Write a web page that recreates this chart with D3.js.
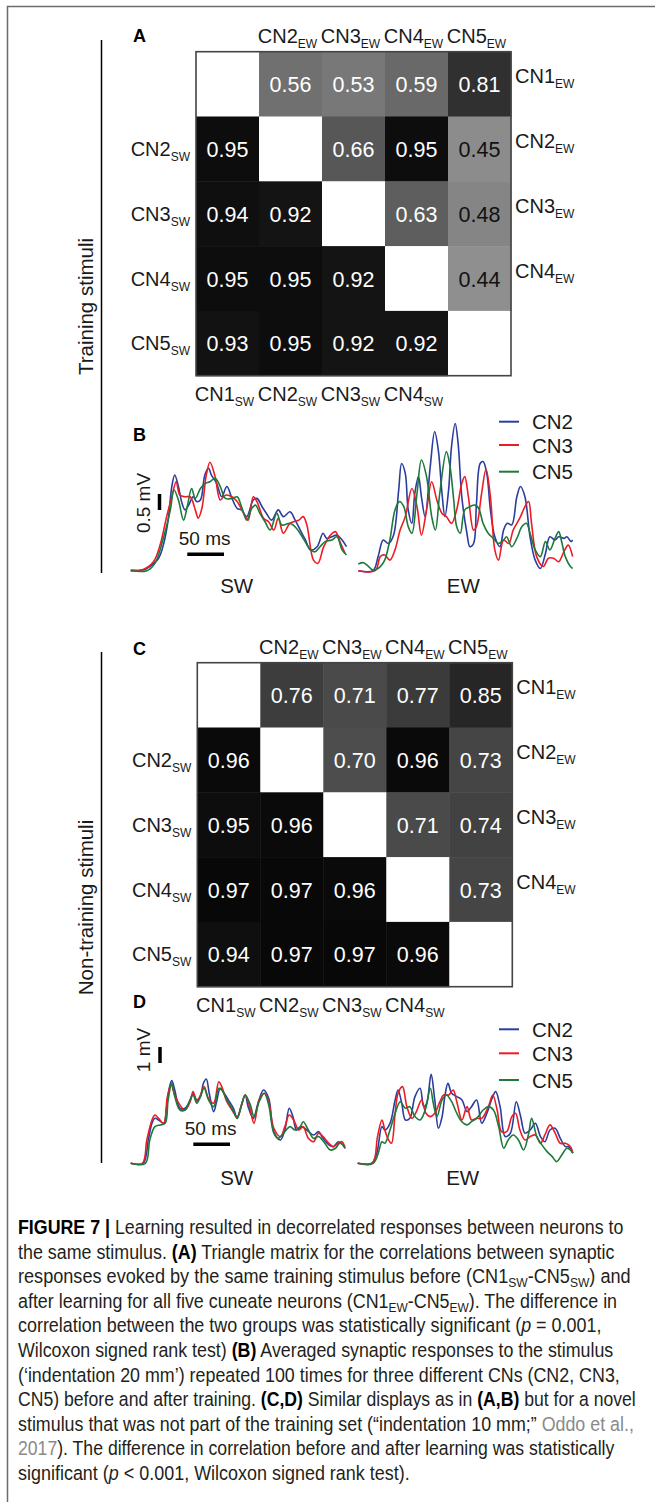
<!DOCTYPE html>
<html>
<head>
<meta charset="utf-8">
<script src="https://cdn.jsdelivr.net/npm/d3@7"></script>
<style>
  body { margin: 0; background: #fff; }
  svg { display: block; font-family: "Liberation Sans", Arial, Helvetica, sans-serif; }
</style>
</head>
<body>
<svg id="fig" width="655" height="1502"></svg>
<script>
/* correlation matrices: upper triangle = after learning (EW), lower = before (SW) */
const neurons = ["CN1", "CN2", "CN3", "CN4", "CN5"];

const trainCorr = [
  [null, 0.56, 0.53, 0.59, 0.81],
  [0.95, null, 0.66, 0.95, 0.45],
  [0.94, 0.92, null, 0.63, 0.48],
  [0.95, 0.95, 0.92, null, 0.44],
  [0.93, 0.95, 0.92, 0.92, null]
];
const novelCorr = [
  [null, 0.76, 0.71, 0.77, 0.85],
  [0.96, null, 0.70, 0.96, 0.73],
  [0.95, 0.96, null, 0.71, 0.74],
  [0.97, 0.97, 0.96, null, 0.73],
  [0.94, 0.97, 0.97, 0.96, null]
];

/* averaged synaptic responses, [time ms, mV] */
const traceNames = ["CN2", "CN3", "CN5"];

// B, training stimulus (indentation 20 mm)
const trainSW_CN2 = [[0,0.02],[17,0.02],[26,0.13],[38,0.39],[45,0.85],[51,1.58],[56,2.63],[60,2.99],[65,2.63],[70,2.10],[74,1.90],[79,2.05],[85,2.31],[90,2.16],[95,2.21],[101,2.99],[106,3.20],[110,2.99],[117,2.73],[124,2.31],[131,2.63],[138,2.26],[145,1.95],[151,1.90],[158,1.69],[167,2.21],[172,2.26],[179,2.00],[185,1.79],[192,1.58],[201,1.90],[208,1.69],[217,1.84],[224,1.58],[231,1.27],[238,0.96],[245,0.65],[254,0.75],[262,1.17],[267,1.01],[274,1.06],[281,1.11],[288,0.96],[294,0.75]];
const trainSW_CN3 = [[0,0],[17,0.04],[31,0.28],[40,0.80],[49,1.69],[56,2.31],[62,2.78],[67,2.36],[74,2.31],[81,2.31],[88,1.90],[92,1.64],[97,1.95],[103,2.99],[108,3.39],[115,2.94],[122,2.21],[129,2.36],[138,2.31],[145,2.16],[154,1.79],[160,1.58],[167,2.31],[172,2.16],[181,1.64],[188,1.53],[195,1.27],[201,1.64],[208,1.17],[217,1.48],[229,1.58],[235,1.69],[240,1.43],[249,0.33],[255,0.23],[263,0.75],[272,1.11],[279,1.22],[285,0.91],[292,0.54]];
const trainSW_CN5 = [[0,0],[22,0],[33,0.23],[45,1.06],[54,1.90],[59,2.52],[65,2.21],[72,1.58],[77,2.00],[83,2.57],[88,2.26],[95,2.57],[101,2.73],[108,2.78],[115,2.89],[122,2.63],[129,2.26],[138,2.26],[145,2.31],[151,2.00],[158,1.58],[165,1.95],[170,2.05],[176,1.79],[183,1.53],[190,1.27],[199,1.79],[206,1.43],[217,1.48],[226,1.32],[235,1.01],[245,0.65],[251,0.59],[258,0.75],[265,0.91],[274,0.96],[281,1.06],[288,0.65],[294,0.49]];
const trainEW_CN2 = [[0,0],[20,0],[27,0.44],[34,0.96],[41,0.85],[48,1.11],[55,2.52],[59,3.35],[64,3.04],[68,1.90],[73,1.48],[77,2.42],[82,2.94],[86,2.31],[91,1.69],[98,3.25],[104,4.34],[109,3.77],[114,2.42],[118,1.69],[123,2.52],[127,3.88],[132,4.60],[136,3.98],[141,2.31],[148,1.17],[152,0.75],[157,0.85],[161,2.10],[166,3.35],[170,3.41],[175,3.04],[180,1.90],[186,1.06],[193,0.75],[198,1.27],[203,1.48],[209,1.43],[216,2.31],[221,2.63],[227,2.31],[234,1.06],[241,0.33],[248,0.07],[255,0.54],[261,1.06],[268,0.96],[273,1.06],[280,1.01],[284,1.06],[290,0.91],[292,0.96]];
const trainEW_CN3 = [[0,0],[23,0],[30,0.44],[36,0.49],[43,0.33],[50,0.65],[57,1.27],[64,1.69],[73,2.57],[80,2.00],[86,1.11],[93,1.90],[100,2.78],[107,2.21],[114,1.79],[120,1.69],[127,1.48],[134,1.90],[141,2.73],[145,2.94],[150,2.31],[157,1.27],[161,1.38],[168,2.42],[174,3.17],[180,2.31],[186,0.65],[191,0.33],[198,0.96],[205,0.85],[211,1.27],[220,1.64],[227,2.00],[232,2.16],[236,1.48],[243,0.44],[252,0.13],[259,0.39],[266,0.39],[273,0.28],[280,0.59],[286,0.80],[292,0.44]];
const trainEW_CN5 = [[0,0.21],[7,0.25],[14,0.13],[20,0.02],[30,0.13],[36,0.33],[43,0.96],[50,1.90],[56,2.16],[62,2.00],[68,1.38],[73,1.17],[80,2.42],[86,3.46],[93,2.94],[100,1.69],[105,1.27],[111,2.42],[120,3.72],[125,3.25],[130,2.21],[134,1.38],[139,1.17],[145,1.90],[152,2.00],[159,2.05],[164,1.95],[170,1.48],[177,1.17],[184,1.01],[191,0.85],[198,0.96],[202,1.06],[209,0.75],[216,1.01],[223,1.38],[229,1.48],[234,1.17],[241,0.65],[248,0.44],[255,0.91],[261,0.65],[268,1.01],[273,1.22],[277,0.91],[282,0.44],[289,0.13],[292,0.07]];

// D, novel stimulus (indentation 10 mm)
const novelSW_CN2 = [[0,0],[17,0],[24,1.46],[29,2.50],[33,2.81],[38,2.71],[45,2.50],[49,3.54],[53,4.79],[56,5.17],[60,4.58],[67,3.44],[74,3.44],[81,3.96],[85,4.38],[90,3.96],[95,4.17],[99,5.00],[103,5.27],[107,4.38],[113,3.23],[117,3.85],[122,4.69],[126,4.48],[133,3.96],[140,3.44],[145,2.81],[151,3.65],[156,4.27],[160,3.54],[167,2.81],[174,3.85],[181,4.58],[188,4.06],[195,1.98],[204,1.46],[210,2.08],[216,3.44],[221,2.92],[226,2.08],[233,2.29],[240,2.08],[249,1.77],[256,1.98],[262,1.56],[270,1.15],[276,1.04],[283,1.35],[289,1.15],[292,0.94]];
const novelSW_CN3 = [[0,0],[16,0],[22,1.46],[29,2.71],[33,3.02],[38,2.81],[45,2.50],[50,4.17],[55,4.90],[60,4.27],[67,3.65],[74,3.33],[81,3.85],[85,4.48],[90,3.85],[95,4.27],[100,4.79],[106,4.06],[113,3.75],[120,5.10],[124,4.79],[131,3.85],[138,3.33],[145,2.92],[151,3.65],[156,4.27],[162,3.54],[168,2.50],[175,3.96],[182,4.38],[188,3.85],[195,2.19],[204,1.67],[210,2.29],[216,3.02],[222,2.71],[229,2.08],[235,2.29],[242,1.56],[249,1.35],[256,1.88],[262,1.67],[270,1.25],[276,1.04],[283,1.25],[288,1.35],[292,0.94]];
const novelSW_CN5 = [[0,0],[20,0],[26,1.46],[33,2.29],[40,2.40],[47,2.50],[51,3.96],[56,5.00],[60,4.17],[67,3.33],[74,3.33],[81,3.96],[85,4.27],[90,3.75],[95,4.17],[100,4.69],[106,3.96],[113,3.54],[120,4.69],[124,4.58],[131,3.96],[138,3.44],[145,2.81],[151,3.65],[156,4.27],[163,3.65],[168,2.92],[175,3.85],[182,4.38],[188,3.65],[195,1.88],[201,1.56],[210,1.98],[217,2.29],[224,2.08],[231,2.29],[235,2.60],[242,2.08],[249,1.56],[256,1.67],[263,1.35],[272,0.83],[279,0.94],[285,1.25],[292,1.04]];
const novelEW_CN2 = [[0,0],[19,0],[26,0.63],[33,2.29],[37,2.08],[44,2.50],[51,3.96],[55,4.58],[60,3.75],[65,2.71],[71,2.81],[78,4.17],[85,4.69],[90,3.54],[94,3.75],[100,5.56],[105,3.96],[110,2.19],[115,2.92],[119,4.27],[123,5.00],[128,4.38],[135,4.17],[142,3.96],[149,3.23],[155,3.54],[162,3.96],[169,2.50],[176,3.13],[183,4.06],[188,4.48],[194,3.54],[201,1.67],[208,1.88],[216,3.85],[222,2.92],[228,1.88],[235,2.08],[242,2.50],[249,1.67],[255,1.35],[262,2.08],[269,2.19],[276,1.56],[283,1.04],[287,1.04],[293,0.63]];
const novelEW_CN3 = [[0,0],[20,0],[27,1.67],[33,2.71],[37,2.08],[42,1.46],[46,1.25],[51,3.13],[55,4.38],[61,4.79],[67,3.54],[74,2.81],[80,3.23],[87,3.96],[93,3.13],[99,2.92],[105,3.13],[112,3.85],[117,4.27],[124,4.27],[130,4.58],[135,3.85],[142,2.71],[149,3.54],[155,2.71],[162,2.81],[169,2.81],[178,3.54],[184,4.27],[190,3.33],[196,1.98],[203,1.98],[210,2.92],[215,3.13],[221,2.08],[228,1.46],[235,1.67],[242,1.77],[249,1.25],[255,1.77],[262,2.40],[269,1.88],[276,1.25],[283,1.25],[290,1.04],[293,0.63]];
const novelEW_CN5 = [[0,0],[21,0],[28,0.63],[33,1.35],[37,1.25],[44,2.08],[51,3.13],[58,3.85],[65,3.44],[71,3.54],[78,2.92],[85,2.71],[92,3.33],[99,4.69],[103,3.75],[108,2.92],[115,3.96],[121,4.27],[128,3.85],[135,3.13],[142,2.60],[149,2.40],[155,2.60],[162,2.81],[171,3.33],[178,3.54],[185,3.33],[192,2.29],[199,0.94],[205,1.46],[212,1.77],[219,1.46],[226,0.83],[233,1.88],[237,2.81],[244,1.67],[251,1.15],[258,0.73],[265,0.42],[271,0.10],[278,0.52],[285,0.94],[290,0.83],[293,0.63]];

const traceColors = ["#2b3d9e", "#ec1c24", "#1d7a3b"];

/* caption, one entry per printed line: [text, style] */
const captionLines = [
  [["FIGURE 7 |", "b"], [" Learning resulted in decorrelated responses between neurons to", ""]],
  [["the same stimulus. ", ""], ["(A)", "b"], [" Triangle matrix for the correlations between synaptic", ""]],
  [["responses evoked by the same training stimulus before (CN1", ""], ["SW", "sub"], ["-CN5", ""], ["SW", "sub"], [") and", ""]],
  [["after learning for all five cuneate neurons (CN1", ""], ["EW", "sub"], ["-CN5", ""], ["EW", "sub"], ["). The difference in", ""]],
  [["correlation between the two groups was statistically significant (", ""], ["p", "i"], [" = 0.001,", ""]],
  [["Wilcoxon signed rank test) ", ""], ["(B)", "b"], [" Averaged synaptic responses to the stimulus", ""]],
  [["(\u2018indentation 20 mm\u2019) repeated 100 times for three different CNs (CN2, CN3,", ""]],
  [["CN5) before and after training. ", ""], ["(C,D)", "b"], [" Similar displays as in ", ""], ["(A,B)", "b"], [" but for a novel", ""]],
  [["stimulus that was not part of the training set (\u201cindentation 10 mm;\u201d ", ""], ["Oddo et al.,", "g"]],
  [["2017", "g"], ["). The difference in correlation before and after learning was statistically", ""]],
  [["significant (", ""], ["p", "i"], [" < 0.001, Wilcoxon signed rank test).", ""]]
];
const captionEnds = [624, 615, 631, 618, 602, 614, 620, 636, 634, 615, 410];

const svg = d3.select("#fig");
const ink = "#1a1a1a";

// page frame
svg.append("path").attr("d", "M7.5,1502 V6.5 H655")
  .attr("fill", "none").attr("stroke", "#6b6b6b").attr("stroke-width", 1.5);

function subLabel(g, main, sub, x, y, anchor) {
  const t = g.append("text").attr("x", x).attr("y", y)
    .attr("text-anchor", anchor).attr("font-size", 20).attr("fill", ink);
  t.append("tspan").text(main);
  t.append("tspan").attr("font-size", 12).attr("dy", 5).text(sub);
  return t;
}

function drawMatrix(data, left, top) {
  const g = svg.append("g");
  const x = d3.scaleBand().domain(neurons).range([left, left + 315]);
  const y = d3.scaleBand().domain(neurons).range([top, top + 324]);
  const shade = d3.scaleLinear().domain([0, 1]).range(["#ffffff", "#000000"]);

  const cells = [];
  data.forEach((row, i) => row.forEach((v, j) => cells.push({ r: neurons[i], c: neurons[j], v })));

  g.selectAll("rect.cell").data(cells).join("rect")
    .attr("class", "cell")
    .attr("x", d => x(d.c)).attr("y", d => y(d.r))
    .attr("width", x.bandwidth() + 0.5).attr("height", y.bandwidth() + 0.5)
    .attr("fill", d => d.v == null ? "#fff" : shade(d.v));

  g.selectAll("text.val").data(cells.filter(d => d.v != null)).join("text")
    .attr("class", "val")
    .attr("x", d => x(d.c) + x.bandwidth() / 2)
    .attr("y", d => y(d.r) + y.bandwidth() / 2 + 8)
    .attr("text-anchor", "middle").attr("font-size", 21.5)
    .attr("fill", d => d.v < 0.5 ? "#111" : "#fff")
    .text(d => d.v.toFixed(2));

  g.append("rect").attr("x", left).attr("y", top).attr("width", 315).attr("height", 324)
    .attr("fill", "none").attr("stroke", "#444").attr("stroke-width", 1.6);

  neurons.forEach((n, i) => {
    const cx = x(n) + x.bandwidth() / 2 - 3;
    const cy = y(n) + y.bandwidth() / 2 + 7;
    if (i > 0) subLabel(g, n, "EW", cx, top - 9, "middle");
    if (i < 4) subLabel(g, n, "SW", cx, top + 324 + 25, "middle");
    if (i > 0) subLabel(g, n, "SW", left - 6, cy, "end");
    if (i < 4) subLabel(g, n, "EW", left + 315 + 4, cy - 8, "start");
  });
}

function drawTraces(cfg) {
  const g = svg.append("g");
  const xSW = d3.scaleLinear().domain([0, 50]).range([cfg.swLeft, cfg.swLeft + 36.7]);
  const xEW = d3.scaleLinear().domain([0, 50]).range([cfg.ewLeft, cfg.ewLeft + 36.7]);
  const y = d3.scaleLinear().domain([0, 1]).range([cfg.base, cfg.base - cfg.pxPerMv]);

  const lineFor = xs => d3.line().x(d => xs(d[0])).y(d => y(d[1])).curve(d3.curveCatmullRom.alpha(0.5));

  cfg.sw.forEach((s, i) => g.append("path").attr("d", lineFor(xSW)(s))
    .attr("fill", "none").attr("stroke", traceColors[i]).attr("stroke-width", 1.6));
  cfg.ew.forEach((s, i) => g.append("path").attr("d", lineFor(xEW)(s))
    .attr("fill", "none").attr("stroke", traceColors[i]).attr("stroke-width", 1.6));

  // scale bars
  const lift = cfg.base - cfg.vBarBottom;
  g.append("line").attr("x1", cfg.vBarX).attr("x2", cfg.vBarX)
    .attr("y1", y(0) - lift).attr("y2", y(cfg.barMv) - lift)
    .attr("stroke", "#000").attr("stroke-width", 3.5);
  g.append("text")
    .attr("transform", `translate(${cfg.vBarX - 10},${cfg.vTextY}) rotate(-90)`)
    .attr("text-anchor", "middle").attr("font-size", 19).attr("fill", ink).text(cfg.vText);

  const hx0 = cfg.hBarX, hLen = xSW(50) - xSW(0);
  g.append("line").attr("x1", hx0).attr("x2", hx0 + hLen)
    .attr("y1", cfg.hBarY).attr("y2", cfg.hBarY).attr("stroke", "#000").attr("stroke-width", 3.5);
  g.append("text").attr("x", hx0 + hLen / 2 - 1).attr("y", cfg.hBarY - 9)
    .attr("text-anchor", "middle").attr("font-size", 19).attr("fill", ink).text("50 ms");

  g.append("text").attr("x", cfg.swLeft + 106).attr("y", cfg.base + 22)
    .attr("text-anchor", "middle").attr("font-size", 20.5).attr("fill", ink).text("SW");
  g.append("text").attr("x", cfg.ewLeft + 105).attr("y", cfg.base + 22)
    .attr("text-anchor", "middle").attr("font-size", 20.5).attr("fill", ink).text("EW");

  // legend
  traceNames.forEach((name, i) => {
    const ly = cfg.legendY[i];
    g.append("line").attr("x1", 499).attr("x2", 519).attr("y1", ly).attr("y2", ly)
      .attr("stroke", traceColors[i]).attr("stroke-width", 2);
    g.append("text").attr("x", 532).attr("y", ly + 7.5)
      .attr("font-size", 20.5).attr("fill", ink).text(name);
  });
}

function panelLetter(letter, y) {
  svg.append("text").attr("x", 133).attr("y", y)
    .attr("font-size", 18).attr("font-weight", "bold").attr("fill", "#000").text(letter);
}

function sideLabel(text, y1, y2) {
  svg.append("line").attr("x1", 101.5).attr("x2", 101.5).attr("y1", y1).attr("y2", y2)
    .attr("stroke", "#000").attr("stroke-width", 1.5);
  svg.append("text")
    .attr("transform", `translate(93,${(y1 + y2) / 2}) rotate(-90)`)
    .attr("text-anchor", "middle").attr("font-size", 20.5).attr("fill", ink).text(text);
}

sideLabel("Training stimuli", 40, 573);
sideLabel("Non-training stimuli", 652, 1163);

panelLetter("A", 42);
drawMatrix(trainCorr, 196, 51.7);
panelLetter("B", 441);
drawTraces({
  sw: [trainSW_CN2, trainSW_CN3, trainSW_CN5],
  ew: [trainEW_CN2, trainEW_CN3, trainEW_CN5],
  swLeft: 130.7, ewLeft: 358.3, base: 570.7, pxPerMv: 32,
  barMv: 0.5, vBarX: 159.5, vBarBottom: 510, vText: "0.5 mV", vTextY: 503,
  hBarX: 187.3, hBarY: 554.3,
  legendY: [421.7, 445, 471.7]
});

panelLetter("C", 655);
drawMatrix(novelCorr, 197.3, 662.7);
panelLetter("D", 1008);
drawTraces({
  sw: [novelSW_CN2, novelSW_CN3, novelSW_CN5],
  ew: [novelEW_CN2, novelEW_CN3, novelEW_CN5],
  swLeft: 130.7, ewLeft: 357.7, base: 1163.3, pxPerMv: 16,
  barMv: 1, vBarX: 160, vBarBottom: 1063, vText: "1 mV", vTextY: 1050,
  hBarX: 193.3, hBarY: 1144.3,
  legendY: [1029.3, 1053.3, 1080]
});

// caption: each line squeezed horizontally to the printed width
const cap = svg.append("g").attr("font-size", 19.5).attr("fill", "#231f20");
captionLines.forEach((segs, i) => {
  const t = cap.append("text").attr("x", 0).attr("y", 0);
  let shifted = false;
  segs.forEach(([txt, style]) => {
    const ts = t.append("tspan").text(txt);
    if (style === "b") ts.attr("font-weight", "bold").attr("fill", "#000");
    if (style === "i") ts.attr("font-style", "italic");
    if (style === "g") ts.attr("fill", "#8a8a8a");
    if (style === "sub") { ts.attr("font-size", 13).attr("dy", 4); shifted = true; }
    else if (shifted) { ts.attr("dy", -4); shifted = false; }
  });
  const natural = t.node().getComputedTextLength();
  const sx = (captionEnds[i] - 18) / natural;
  t.attr("transform", `translate(18,${1234 + i * 24.6}) scale(${sx},1)`);
});
</script>
</body>
</html>
